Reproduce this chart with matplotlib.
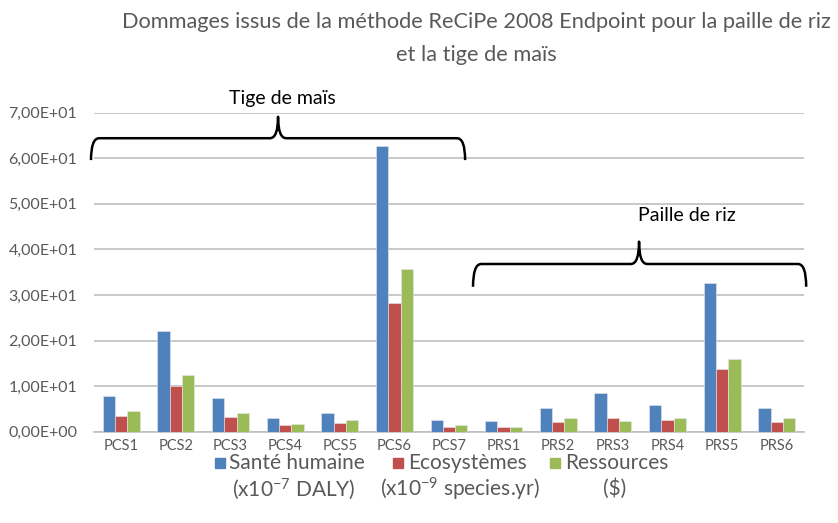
import matplotlib
matplotlib.use("Agg")
import matplotlib.pyplot as plt
import numpy as np
from matplotlib.path import Path
from matplotlib.patches import PathPatch, Rectangle
from matplotlib.ticker import FuncFormatter, MultipleLocator

plt.rcParams['font.family'] = ['Lato', 'DejaVu Sans']
plt.rcParams['mathtext.fontset'] = 'custom'
plt.rcParams['mathtext.rm'] = 'Lato'
plt.rcParams['mathtext.default'] = 'regular'

categories = ["PCS1", "PCS2", "PCS3", "PCS4", "PCS5", "PCS6", "PCS7",
              "PRS1", "PRS2", "PRS3", "PRS4", "PRS5", "PRS6"]
sante = [7.8, 22.0, 7.3, 3.1, 4.1, 62.8, 2.5, 2.3, 5.1, 8.5, 5.8, 32.6, 5.1]
ecosystemes = [3.4, 10.1, 3.3, 1.4, 1.8, 28.2, 1.0, 1.0, 2.2, 2.9, 2.5, 13.8, 2.2]
ressources = [4.5, 12.4, 4.1, 1.7, 2.5, 35.7, 1.5, 1.0, 2.9, 2.3, 3.1, 16.0, 2.9]

series_names = [("Santé humaine", r"(x10$^{-7}$ DALY)"),
                ("Ecosystèmes", r"(x10$^{-9}$ species.yr)"),
                ("Ressources", "($)")]
colors = ["#4F81BD", "#C0504D", "#9BBB59"]
title = "Dommages issus de la méthode ReCiPe 2008 Endpoint pour la paille de riz\net la tige de maïs"
group_labels = ["Tige de maïs", "Paille de riz"]

text_gray = "#595959"

fig = plt.figure(figsize=(8.38, 5.23), dpi=100)
ax = fig.add_axes([94 / 838, 1 - 431.7 / 523, 710 / 838, 319 / 523])

x = np.arange(len(categories))
w = 0.225
for i, (vals, c) in enumerate(zip([sante, ecosystemes, ressources], colors)):
    ax.bar(x + (i - 1) * w, vals, width=w, color=c, edgecolor="#e8e8e8",
           linewidth=0.4, zorder=3)

ax.set_xlim(-0.5, len(categories) - 0.5)
ax.set_ylim(0, 70)
ax.yaxis.set_major_locator(MultipleLocator(10))
ax.yaxis.set_major_formatter(FuncFormatter(lambda v, p: f"{v:.2E}".replace(".", ",")))
ax.grid(axis="y", color="#BFBFBF", linewidth=1.2, zorder=0)
for s in ["top", "right", "left"]:
    ax.spines[s].set_visible(False)
ax.spines["bottom"].set_color("#BFBFBF")
ax.spines["bottom"].set_linewidth(1.2)
ax.set_xticks(x)
ax.set_xticklabels(categories)
ax.tick_params(axis="y", length=0, pad=12, labelsize=11.5, labelcolor=text_gray)
ax.tick_params(axis="x", length=0, pad=5, labelsize=10.5, labelcolor=text_gray)

title_lines = title.split("\n")
fig.text(476 / 838, 1 - 22 / 523, title_lines[0], ha="center", va="center",
         fontsize=15.7, color=text_gray)
fig.text(476 / 838, 1 - 55 / 523, title_lines[1], ha="center", va="center",
         fontsize=15.7, color=text_gray)


def brace(x0, x1, xm, y_end, y_bar, y_tip, dx):
    verts = [(x0, y_end), (x0, y_bar), (x0 + dx, y_bar),
             (xm - dx, y_bar), (xm, y_bar), (xm, y_tip),
             (xm, y_bar), (xm + dx, y_bar),
             (x1 - dx, y_bar), (x1, y_bar), (x1, y_end)]
    codes = [Path.MOVETO, Path.CURVE3, Path.CURVE3,
             Path.LINETO, Path.CURVE3, Path.CURVE3,
             Path.CURVE3, Path.CURVE3,
             Path.LINETO, Path.CURVE3, Path.CURVE3]
    ax.add_patch(PathPatch(Path(verts, codes), fill=False, lw=1.8,
                           color="black", clip_on=False, zorder=5,
                           capstyle="butt", joinstyle="round"))


brace(-0.555, 6.295, 2.87, 59.6, 64.4, 69.1, 0.15)
brace(6.44, 12.54, 9.48, 31.8, 36.8, 41.7, 0.15)
ax.text(2.95, 73.2, group_labels[0], ha="center", va="center", fontsize=14,
        color="black", clip_on=False)
ax.text(10.36, 47.5, group_labels[1], ha="center", va="center", fontsize=14,
        color="black")

# legend drawn as squares and two-line labels
leg = [(215, 229, 294), (393, 408, 460), (550, 565, 615)]
for (sq_x, l1_x, l2_x), (n1, n2), c in zip(leg, series_names, colors):
    fig.patches.append(Rectangle((sq_x / 838, 1 - 468 / 523), 10 / 838, 10 / 523,
                                 transform=fig.transFigure, color=c, figure=fig))
    fig.text(l1_x / 838, 1 - 463 / 523, n1, ha="left", va="center",
             fontsize=15, color=text_gray)
    fig.text(l2_x / 838, 1 - 489 / 523, n2, ha="center", va="center",
             fontsize=15, color=text_gray)

fig.savefig("out.png", dpi=100, facecolor="white")
